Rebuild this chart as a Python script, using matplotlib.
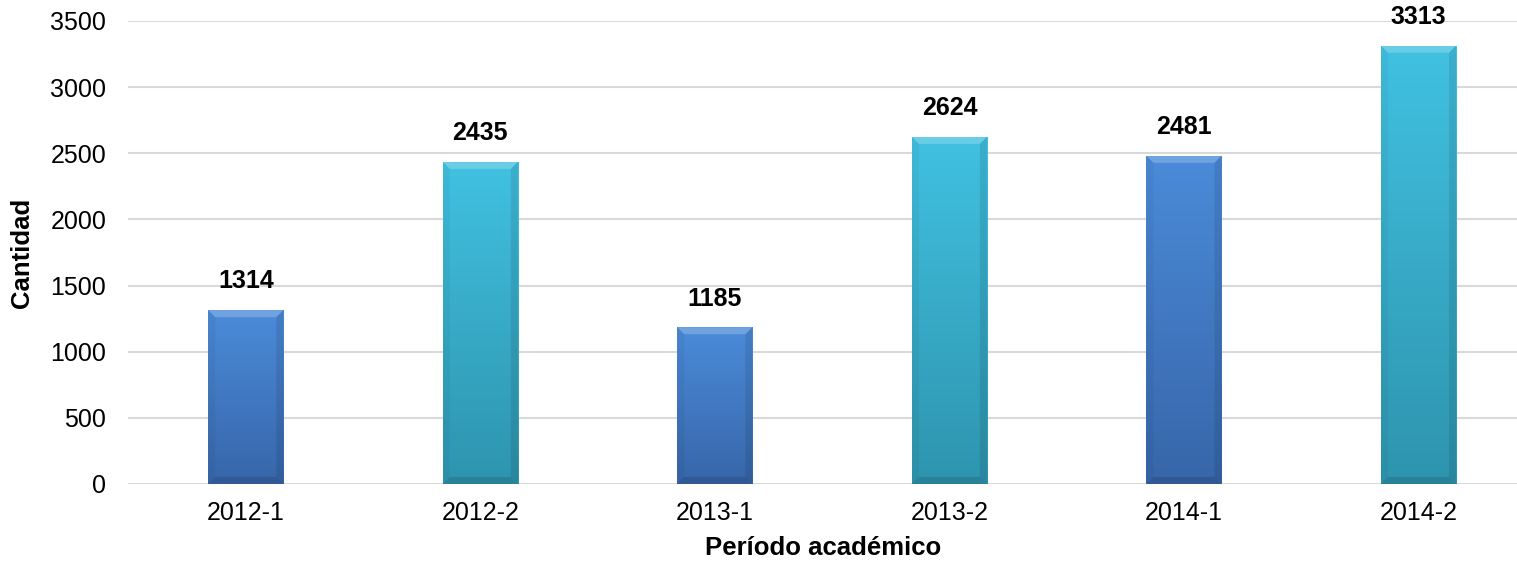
import matplotlib
matplotlib.use('Agg')
import matplotlib.pyplot as plt
import numpy as np
from matplotlib.patches import Polygon
from matplotlib.colors import LinearSegmentedColormap

plt.rcParams['font.family'] = ['Liberation Sans', 'DejaVu Sans']

# datos del gráfico
periodos = ['2012-1', '2012-2', '2013-1', '2013-2', '2014-1', '2014-2']
cantidad = [1314, 2435, 1185, 2624, 2481, 3313]
# color de cada barra: azul para semestre 1, celeste para semestre 2
colores_top = ['#4B8BD9', '#41C1E1', '#4B8BD9', '#41C1E1', '#4B8BD9', '#41C1E1']
colores_bot = ['#3766A9', '#2E94AE', '#3766A9', '#2E94AE', '#3766A9', '#2E94AE']
y_ticks = [0, 500, 1000, 1500, 2000, 2500, 3000, 3500]

fig = plt.figure(figsize=(15.17, 5.61), dpi=100)
ax = fig.add_axes([0.0847, 0.1373, 0.9153, 0.8253])

x = np.arange(len(periodos))
bars = ax.bar(x, cantidad, width=0.32, color='none', zorder=2)

ax.set_xlim(-0.5, 5.42)
ax.set_ylim(0, 3500)
ax.set_yticks(y_ticks)
ax.set_xticks(x)
ax.set_xticklabels(periodos)
ax.tick_params(axis='both', length=0, labelsize=18, colors='black')
ax.tick_params(axis='y', pad=16)
ax.tick_params(axis='x', pad=12)
ax.yaxis.grid(True, color='#D9D9D9', linewidth=1.5, zorder=0)
ax.set_axisbelow(True)
for s in ax.spines.values():
    s.set_visible(False)

ax.set_ylabel('Cantidad', fontsize=18.5, fontweight='bold', labelpad=12)
ax.set_xlabel('Período académico', fontsize=18.5, fontweight='bold', labelpad=8)

fig.canvas.draw()
# pixeles -> datos
px2x = (ax.get_xlim()[1] - ax.get_xlim()[0]) / ax.bbox.width
px2y = (ax.get_ylim()[1] - ax.get_ylim()[0]) / ax.bbox.height

for i, rect in enumerate(bars):
    x0, w, h = rect.get_x(), rect.get_width(), rect.get_height()
    cmap = LinearSegmentedColormap.from_list('g', [colores_bot[i], colores_top[i]])
    grad = np.linspace(0, 1, 256).reshape(-1, 1)
    im = ax.imshow(grad, cmap=cmap, origin='lower', aspect='auto',
                   extent=(x0, x0 + w, 0, h), zorder=2)
    im.set_clip_path(rect)
    rect.set_edgecolor('none')
    # bisel superior y laterales
    bx = 7 * px2x
    by = 7 * px2y
    top = Polygon([(x0, h), (x0 + w, h), (x0 + w - bx, h - by), (x0 + bx, h - by)],
                  closed=True, facecolor='white', alpha=0.22, edgecolor='none', zorder=3)
    left = Polygon([(x0, 0), (x0, h), (x0 + bx, h - by), (x0 + bx, by)],
                   closed=True, facecolor='black', alpha=0.04, edgecolor='none', zorder=3)
    right = Polygon([(x0 + w, 0), (x0 + w, h), (x0 + w - bx, h - by), (x0 + w - bx, by)],
                    closed=True, facecolor='black', alpha=0.09, edgecolor='none', zorder=3)
    bottom = Polygon([(x0, 0), (x0 + w, 0), (x0 + w - bx, by), (x0 + bx, by)],
                     closed=True, facecolor='black', alpha=0.12, edgecolor='none', zorder=3)
    for p in (top, left, right, bottom):
        ax.add_patch(p)
    ax.annotate(str(cantidad[i]), (x[i], h), xytext=(0, 12), textcoords='offset points',
                ha='center', va='bottom', fontsize=18, fontweight='bold', zorder=4,
                annotation_clip=False)

ax.set_xlim(-0.5, 5.42)
ax.set_ylim(0, 3500)

fig.savefig('out.png', dpi=100)
